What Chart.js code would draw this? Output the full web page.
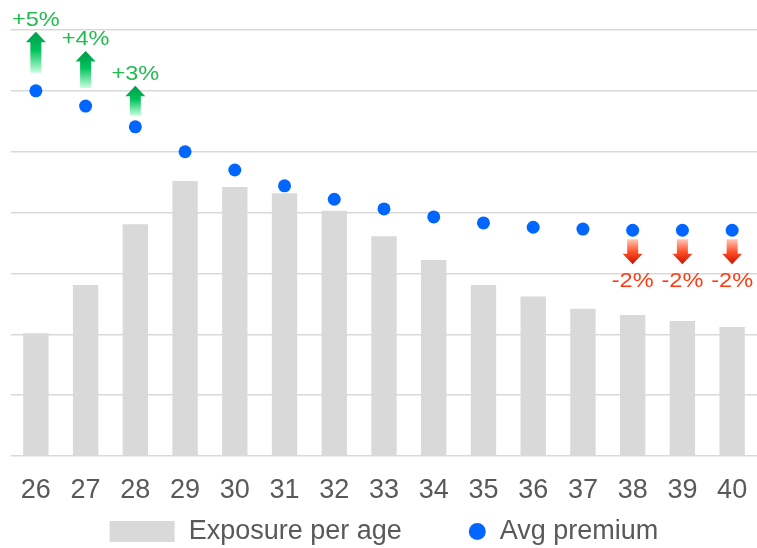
<!DOCTYPE html>
<html>
<head>
<meta charset="utf-8">
<script src="https://cdn.jsdelivr.net/npm/chart.js@4.4.1/dist/chart.umd.min.js"></script>
<style>
  html, body { margin: 0; padding: 0; background: #fff; }
  #wrap { width: 757px; height: 548px; position: relative; }
</style>
</head>
<body>
<div id="wrap"><canvas id="chart"></canvas></div>
<script>
// Data (in grid units)
const ages = ['26', '27', '28', '29', '30', '31', '32', '33', '34', '35', '36', '37', '38', '39', '40'];
const exposure = [2.02, 2.81, 3.81, 4.52, 4.42, 4.32, 4.03, 3.61, 3.22, 2.81, 2.62, 2.42, 2.32, 2.22, 2.12];
const avgPremium = [6.00, 5.75, 5.41, 5.00, 4.70, 4.44, 4.22, 4.06, 3.93, 3.83, 3.76, 3.73, 3.71, 3.71, 3.71];
const premiumChange = ['+5%', '+4%', '+3%', '', '', '', '', '', '', '', '', '', '-2%', '-2%', '-2%'];
const yMin = 0, yMax = 7, yStep = 1;

const FONT = '"Liberation Sans", Arial, sans-serif';
const GREY_TEXT = '#595959';

// arrow gap from point and arrow length, by index (px)
const arrowSizes = { 0: [18, 41], 1: [18, 37], 2: [11, 30] };
const defaultArrow = [9, 25];

function drawArrow(ctx, x, tipY, endY, stops) {
  const dir = tipY < endY ? -1 : 1;
  const headH = 10.5, headW = 10, shaftW = 5.5;
  const headBase = tipY - dir * headH;
  // stops always run top -> bottom
  const grad = ctx.createLinearGradient(0, Math.min(tipY, endY), 0, Math.max(tipY, endY));
  stops.forEach(s => grad.addColorStop(s[0], s[1]));
  ctx.beginPath();
  ctx.moveTo(x, tipY);
  ctx.lineTo(x + headW, headBase);
  ctx.lineTo(x + shaftW, headBase);
  ctx.lineTo(x + shaftW, endY);
  ctx.lineTo(x - shaftW, endY);
  ctx.lineTo(x - shaftW, headBase);
  ctx.lineTo(x - headW, headBase);
  ctx.closePath();
  ctx.fillStyle = grad;
  ctx.fill();
}

// Arrows + percent labels next to the premium points
const changeArrows = {
  id: 'changeArrows',
  afterDatasetsDraw(chart) {
    const ctx = chart.ctx;
    const meta = chart.data.datasets.findIndex(d => d.label === 'Avg premium');
    const pts = chart.getDatasetMeta(meta).data;
    ctx.save();
    ctx.textAlign = 'center';
    ctx.textBaseline = 'middle';
    ctx.font = '21px ' + FONT;
    premiumChange.forEach((txt, i) => {
      if (!txt) return;
      const p = pts[i];
      const size = arrowSizes[i] || defaultArrow;
      const up = txt.startsWith('+');
      let tipY, labelY;
      if (up) {
        const end = p.y - size[0];
        tipY = end - size[1];
        drawArrow(ctx, p.x, tipY, end, [[0, '#009a4a'], [0.45, '#00c25a'], [1, '#c8ffe0']]);
        labelY = tipY - 11.5;
        ctx.fillStyle = '#22bb50';
      } else {
        const end = p.y + size[0];
        tipY = end + size[1];
        drawArrow(ctx, p.x, tipY, end, [[0, '#ffc8b8'], [0.5, '#ff5028'], [1, '#cc1100']]);
        labelY = tipY + 17;
        ctx.fillStyle = '#ff3a10';
      }
      ctx.save();
      ctx.translate(p.x, labelY);
      ctx.scale(1.12, 1);
      ctx.fillText(txt, 0, 0);
      ctx.restore();
    });
    ctx.restore();
  }
};

// Legend drawn under the axis: wide grey box for bars, dot for points
const bottomLegend = {
  id: 'bottomLegend',
  afterDraw(chart) {
    const ctx = chart.ctx;
    const bars = chart.data.datasets.find(d => d.type === 'bar');
    const dots = chart.data.datasets.find(d => d.type === 'line');
    const y = chart.height - 16.5;
    ctx.save();
    ctx.font = '27px ' + FONT;
    ctx.textBaseline = 'middle';
    ctx.textAlign = 'left';
    const boxW = 65, dotD = 17, gap = 14, itemGap = 67;
    const w0 = ctx.measureText(bars.label).width;
    const w1 = ctx.measureText(dots.label).width;
    const total = boxW + gap + w0 + itemGap + dotD + gap + w1;
    const area = chart.chartArea;
    let x = (area.left + area.right) / 2 - total / 2;
    ctx.fillStyle = bars.backgroundColor;
    ctx.fillRect(x, y - 10.5, boxW, 21);
    x += boxW + gap;
    ctx.fillStyle = GREY_TEXT;
    ctx.fillText(bars.label, x, y);
    x += w0 + itemGap;
    ctx.beginPath();
    ctx.arc(x + dotD / 2, y, dotD / 2, 0, Math.PI * 2);
    ctx.fillStyle = dots.backgroundColor;
    ctx.fill();
    x += dotD + gap;
    ctx.fillStyle = GREY_TEXT;
    ctx.fillText(dots.label, x, y);
    ctx.restore();
  }
};

new Chart(document.getElementById('chart'), {
  type: 'bar',
  data: {
    labels: ages,
    datasets: [
      {
        type: 'bar',
        label: 'Exposure per age',
        data: exposure,
        backgroundColor: '#d9d9d9',
        categoryPercentage: 1,
        barPercentage: 0.51,
        order: 1
      },
      {
        type: 'line',
        label: 'Avg premium',
        data: avgPremium,
        showLine: false,
        backgroundColor: '#0066ff',
        borderColor: '#0066ff',
        pointRadius: 6.5,
        pointHoverRadius: 6.5,
        pointBorderWidth: 0,
        order: 0
      }
    ]
  },
  options: {
    responsive: true,
    maintainAspectRatio: false,
    animation: false,
    // no auto padding: the plot runs to the right edge of the canvas
    layout: { autoPadding: false, padding: { left: 11, right: 0, top: 30, bottom: 41.5 } },
    plugins: {
      legend: { display: false },
      tooltip: { enabled: false }
    },
    scales: {
      x: {
        grid: { display: false, drawTicks: true, tickLength: 18 },
        border: { display: false },
        ticks: { color: GREY_TEXT, font: { size: 27, family: FONT }, padding: 0 }
      },
      y: {
        min: yMin,
        max: yMax,
        ticks: { display: false, stepSize: yStep },
        grid: { color: '#d9d9d9', lineWidth: 1.5, drawTicks: false },
        border: { display: false }
      }
    }
  },
  plugins: [changeArrows, bottomLegend]
});
</script>
</body>
</html>
